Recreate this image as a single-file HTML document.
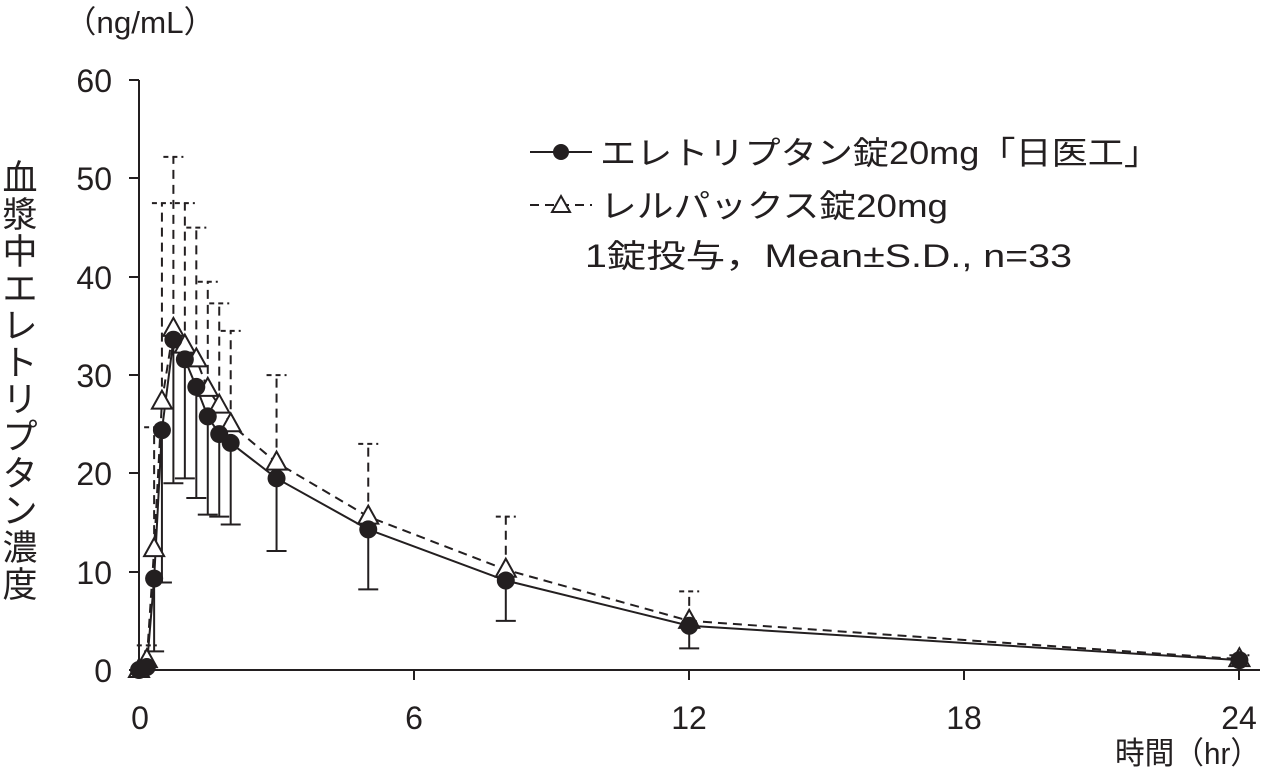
<!DOCTYPE html>
<html><head><meta charset="utf-8"><style>
html,body{margin:0;padding:0;background:#fff;}
svg text{font-family:"Liberation Sans","Noto Sans CJK JP",sans-serif;fill:#231f20;}
</style></head><body>
<svg width="1277" height="778" viewBox="0 0 1277 778" xmlns="http://www.w3.org/2000/svg">
<g stroke="#231f20" stroke-width="2" fill="none">
<line x1="139" y1="80" x2="139" y2="670"/>
<line x1="139" y1="670" x2="1260" y2="670"/>
<line x1="129" y1="80" x2="139" y2="80"/>
<line x1="129" y1="178" x2="139" y2="178"/>
<line x1="129" y1="277" x2="139" y2="277"/>
<line x1="129" y1="375" x2="139" y2="375"/>
<line x1="129" y1="473" x2="139" y2="473"/>
<line x1="129" y1="572" x2="139" y2="572"/>
<line x1="129" y1="670" x2="139" y2="670"/>
<line x1="414" y1="670" x2="414" y2="680"/>
<line x1="689" y1="670" x2="689" y2="680"/>
<line x1="964" y1="670" x2="964" y2="680"/>
<line x1="1239" y1="670" x2="1239" y2="680"/>
</g>
<g font-size="32" text-anchor="end">
<text x="112" y="92">60</text><text x="112" y="190">50</text><text x="112" y="289">40</text>
<text x="112" y="387">30</text><text x="112" y="485">20</text><text x="112" y="584">10</text><text x="112" y="682">0</text>
</g>
<g font-size="32" text-anchor="middle">
<text x="140" y="729">0</text><text x="414" y="729">6</text><text x="689" y="729">12</text>
<text x="964" y="729">18</text><text x="1239" y="729">24</text>
</g>
<text x="65" y="33" font-size="31" textLength="150" lengthAdjust="spacingAndGlyphs">（ng/mL）</text>
<text x="1115" y="764" font-size="31" textLength="145" lengthAdjust="spacingAndGlyphs">時間（hr）</text>
<g font-size="35" text-anchor="middle">
<text x="20" y="190">血</text><text x="20" y="227">漿</text><text x="20" y="264">中</text>
<text x="20" y="301">エ</text><text x="20" y="338">レ</text><text x="20" y="375">ト</text>
<text x="20" y="412">リ</text><text x="20" y="449">プ</text><text x="20" y="486">タ</text>
<text x="20" y="523">ン</text><text x="20" y="560">濃</text><text x="20" y="597">度</text>
</g>
<!-- legend -->
<line x1="530" y1="152" x2="592" y2="152" stroke="#231f20" stroke-width="2"/>
<circle cx="561" cy="152" r="8" fill="#231f20"/>
<text x="600" y="164" font-size="32" textLength="560" lengthAdjust="spacingAndGlyphs">エレトリプタン錠20mg「日医工」</text>
<line x1="530" y1="205" x2="592" y2="205" stroke="#231f20" stroke-width="2" stroke-dasharray="9,6"/>
<polygon points="561,196 570,212 552,212" fill="#fff" stroke="#231f20" stroke-width="2"/>
<text x="600" y="217" font-size="32" textLength="348" lengthAdjust="spacingAndGlyphs">レルパックス錠20mg</text>
<text x="585" y="267" font-size="32" textLength="487" lengthAdjust="spacingAndGlyphs">1錠投与，Mean±S.D., n=33</text>
<g id="plot"></g>
</svg>
<script>
const X=t=>139+t*45.85, Y=v=>670-v*9.83;
const T=[0,0.17,0.33,0.5,0.75,1,1.25,1.5,1.75,2,3,5,8,12,24];
const C=[0,0.3,9.3,24.4,33.6,31.6,28.8,25.8,24,23.1,19.5,14.3,9.1,4.5,1.0];
const CL=[0,0,1.9,8.9,19,19.5,17.5,15.8,15.6,14.8,12.1,8.2,5,2.2,0.5];
const D=[0,1.0,12.3,27.3,34.7,33,31.6,28.6,26.9,25,21.1,15.6,10.2,5.0,1.1];
const DU=[0,2.5,24.7,47.5,52.2,47.5,45,39.5,37.3,34.5,30,23,15.6,8,1.5];
let s='';
const S='stroke="#231f20" stroke-width="2"';
for(let i=1;i<T.length;i++){
 const x=X(T[i]);
 s+=`<line x1="${x}" y1="${Y(D[i])}" x2="${x}" y2="${Y(DU[i])}" ${S} stroke-dasharray="9,6"/>`;
 s+=`<line x1="${x-10}" y1="${Y(DU[i])}" x2="${x+10}" y2="${Y(DU[i])}" ${S} stroke-dasharray="5,4"/>`;
 s+=`<line x1="${x}" y1="${Y(C[i])}" x2="${x}" y2="${Y(CL[i])}" ${S}/>`;
 s+=`<line x1="${x-10}" y1="${Y(CL[i])}" x2="${x+10}" y2="${Y(CL[i])}" ${S}/>`;
}
s+=`<polyline points="${T.map((t,i)=>X(t)+','+Y(D[i])).join(' ')}" fill="none" ${S} stroke-dasharray="9,6"/>`;
s+=`<polyline points="${T.map((t,i)=>X(t)+','+Y(C[i])).join(' ')}" fill="none" ${S}/>`;
T.forEach((t,i)=>{const x=X(t),y=Y(D[i]);s+=`<polygon points="${x},${y-11} ${x+10},${y+7} ${x-10},${y+7}" fill="#fff" ${S}/>`;});
T.forEach((t,i)=>{s+=`<circle cx="${X(t)}" cy="${Y(C[i])}" r="9" fill="#231f20"/>`;});
document.getElementById('plot').innerHTML=s;
</script>
</body></html>
